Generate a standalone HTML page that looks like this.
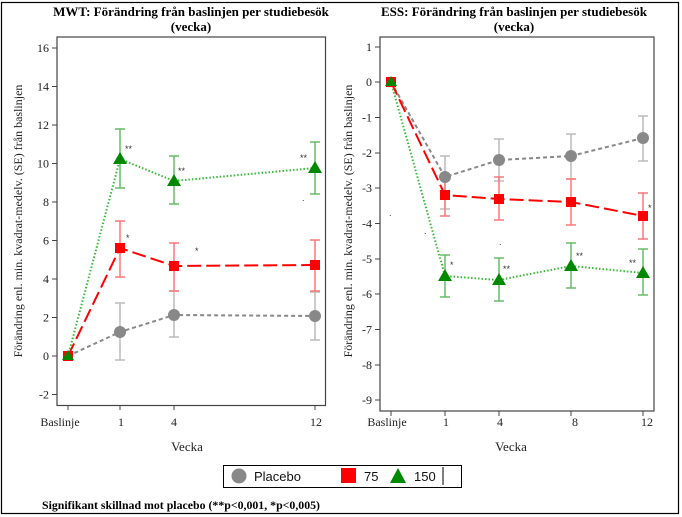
<!DOCTYPE html>
<html><head><meta charset="utf-8"><style>
html,body{margin:0;padding:0;background:#fff;}
svg{display:block;}
text{font-family:"Liberation Serif",serif;}
.t{font-size:12px;fill:#222;}
.ttl{font-size:13px;font-weight:bold;fill:#000;}
.sans{font-family:"Liberation Sans",sans-serif;}
</style></head><body>
<svg width="682" height="517" viewBox="0 0 682 517" xmlns="http://www.w3.org/2000/svg">
<rect x="1.5" y="2.5" width="677" height="511" fill="#fff" stroke="#000" stroke-width="1.2"/>

<!-- LEFT PANEL -->
<text class="ttl" x="191" y="16" text-anchor="middle">MWT: Förändring från baslinjen per studiebesök</text>
<text class="ttl" x="191" y="31" text-anchor="middle">(vecka)</text>
<rect x="57" y="37" width="268.5" height="368.5" fill="#fff" stroke="#444" stroke-width="1.2"/>
<g stroke="#444" stroke-width="1">
<line x1="52" y1="48" x2="57" y2="48"/><line x1="52" y1="86.5" x2="57" y2="86.5"/><line x1="52" y1="125" x2="57" y2="125"/><line x1="52" y1="163.5" x2="57" y2="163.5"/><line x1="52" y1="202" x2="57" y2="202"/><line x1="52" y1="240.5" x2="57" y2="240.5"/><line x1="52" y1="279" x2="57" y2="279"/><line x1="52" y1="317.5" x2="57" y2="317.5"/><line x1="52" y1="356" x2="57" y2="356"/><line x1="52" y1="394.5" x2="57" y2="394.5"/>
<line x1="68" y1="405" x2="68" y2="410"/><line x1="120" y1="405" x2="120" y2="410"/><line x1="174" y1="405" x2="174" y2="410"/><line x1="315" y1="405" x2="315" y2="410"/>
</g>
<g class="t" text-anchor="end">
<text x="49" y="52">16</text><text x="49" y="90.5">14</text><text x="49" y="129">12</text><text x="49" y="167.5">10</text><text x="49" y="206">8</text><text x="49" y="244.5">6</text><text x="49" y="283">4</text><text x="49" y="321.5">2</text><text x="49" y="360">0</text><text x="49" y="398.5">-2</text>
</g>
<g class="t" text-anchor="middle">
<text x="60" y="426">Baslinje</text><text x="121" y="426">1</text><text x="174" y="426">4</text><text x="316" y="426">12</text>
<text x="187" y="451" font-size="13">Vecka</text>
</g>
<text class="t" transform="translate(22,221) rotate(-90)" text-anchor="middle">Förändring enl. min. kvadrat-medelv. (SE) från baslinjen</text>
<g stroke-width="1.5" fill="none">
<g stroke="#bbb"><path d="M120 360V303M115 360h10M115 303h10M174 337V291M169 337h10M169 291h10M315 340V292M310 340h10M310 292h10"/></g>
<g stroke="#f77"><path d="M120 277V221M115 277h10M115 221h10M174 291V243M169 291h10M169 243h10M315 291V240M310 291h10M310 240h10"/></g>
<g stroke="#6b6"><path d="M120 188V129M115 188h10M115 129h10M174 204V156M169 204h10M169 156h10M315 194V142M310 194h10M310 142h10"/></g>
</g>
<polyline points="68,356 120,332 174,315 315,316" fill="none" stroke="#888" stroke-width="2" stroke-dasharray="4,3"/>
<polyline points="68,356 120,248 174,266 315,265" fill="none" stroke="#f00" stroke-width="2" stroke-dasharray="14,5"/>
<polyline points="68,356 120,159 174,181 315,168" fill="none" stroke="#3b3" stroke-width="2" stroke-dasharray="1.5,2"/>
<g fill="#888"><circle cx="120" cy="332" r="6"/><circle cx="174" cy="315" r="6"/><circle cx="315" cy="316" r="6"/></g>
<g fill="#f00"><rect x="115" y="243" width="10" height="10"/><rect x="169" y="261" width="10" height="10"/><rect x="310" y="260" width="10" height="10"/><rect x="63" y="351" width="10" height="10"/></g>
<g fill="#080"><path d="M120 152l7 12h-14z"/><path d="M174 174l7 12h-14z"/><path d="M315 161l7 12h-14z"/><path d="M68 350l6 10h-12z"/></g>
<g font-size="9" fill="#333" class="sans">
<text class="sans" x="125" y="152">**</text><text class="sans" x="178" y="174">**</text><text class="sans" x="300" y="161">**</text><text class="sans" x="126" y="241">*</text><text class="sans" x="195" y="254">*</text><text class="sans" x="302" y="201">.</text>
</g>

<!-- RIGHT PANEL -->
<text class="ttl" x="514" y="16" text-anchor="middle">ESS: Förändring från baslinjen per studiebesök</text>
<text class="ttl" x="514" y="31" text-anchor="middle">(vecka)</text>
<rect x="380" y="37" width="274" height="374" fill="#fff" stroke="#444" stroke-width="1.2"/>
<g stroke="#444" stroke-width="1">
<line x1="375" y1="47" x2="380" y2="47"/><line x1="375" y1="82" x2="380" y2="82"/><line x1="375" y1="117.5" x2="380" y2="117.5"/><line x1="375" y1="153" x2="380" y2="153"/><line x1="375" y1="188" x2="380" y2="188"/><line x1="375" y1="223.5" x2="380" y2="223.5"/><line x1="375" y1="259" x2="380" y2="259"/><line x1="375" y1="294" x2="380" y2="294"/><line x1="375" y1="329.5" x2="380" y2="329.5"/><line x1="375" y1="365" x2="380" y2="365"/><line x1="375" y1="400" x2="380" y2="400"/>
<line x1="391" y1="411" x2="391" y2="416"/><line x1="445" y1="411" x2="445" y2="416"/><line x1="499" y1="411" x2="499" y2="416"/><line x1="571" y1="411" x2="571" y2="416"/><line x1="643" y1="411" x2="643" y2="416"/>
</g>
<g class="t" text-anchor="end">
<text x="372" y="51">1</text><text x="372" y="86">0</text><text x="372" y="121.5">-1</text><text x="372" y="157">-2</text><text x="372" y="192">-3</text><text x="372" y="227.5">-4</text><text x="372" y="263">-5</text><text x="372" y="298">-6</text><text x="372" y="333.5">-7</text><text x="372" y="369">-8</text><text x="372" y="404">-9</text>
</g>
<g class="t" text-anchor="middle">
<text x="387" y="426">Baslinje</text><text x="446" y="426">1</text><text x="500" y="426">4</text><text x="575" y="426">8</text><text x="647" y="426">12</text>
<text x="511" y="451" font-size="13">Vecka</text>
</g>
<text class="t" transform="translate(352,221) rotate(-90)" text-anchor="middle">Förändring enl. min. kvadrat-medelv. (SE) från baslinjen</text>
<g stroke-width="1.5" fill="none">
<g stroke="#bbb"><path d="M445 209V156M440 209h10M440 156h10M499 181V139M494 181h10M494 139h10M571 179V134M566 179h10M566 134h10M643 161V116M638 161h10M638 116h10"/></g>
<g stroke="#f77"><path d="M445 216V174M440 216h10M440 174h10M499 220V177M494 220h10M494 177h10M571 225V179M566 225h10M566 179h10M643 239V193M638 239h10M638 193h10"/></g>
<g stroke="#6b6"><path d="M445 297V255M440 297h10M440 255h10M499 301V258M494 301h10M494 258h10M571 288V243M566 288h10M566 243h10M643 295V249M638 295h10M638 249h10"/></g>
</g>
<polyline points="391,82 445,177 499,160 571,156 643,138" fill="none" stroke="#888" stroke-width="2" stroke-dasharray="4,3"/>
<polyline points="391,82 445,195 499,199 571,202 643,216" fill="none" stroke="#f00" stroke-width="2" stroke-dasharray="14,5"/>
<polyline points="391,82 445,276 499,280 571,266 643,273" fill="none" stroke="#3b3" stroke-width="2" stroke-dasharray="1.5,2"/>
<g fill="#888"><circle cx="445" cy="177" r="6"/><circle cx="499" cy="160" r="6"/><circle cx="571" cy="156" r="6"/><circle cx="643" cy="138" r="6"/></g>
<g fill="#f00"><rect x="440" y="190" width="10" height="10"/><rect x="494" y="194" width="10" height="10"/><rect x="566" y="197" width="10" height="10"/><rect x="638" y="211" width="10" height="10"/><rect x="386" y="77" width="10" height="10"/></g>
<g fill="#080"><path d="M445 269l7 12h-14z"/><path d="M499 273l7 12h-14z"/><path d="M571 259l7 12h-14z"/><path d="M643 266l7 12h-14z"/><path d="M391 76l6 10h-12z"/></g>
<g font-size="9" fill="#333">
<text class="sans" x="450" y="268">*</text><text class="sans" x="503" y="272">**</text><text class="sans" x="576" y="259">**</text><text class="sans" x="629" y="266">**</text><text class="sans" x="648" y="211">*</text><text class="sans" x="499" y="245">.</text><text class="sans" x="389" y="216">.</text><text class="sans" x="424" y="234">.</text>
</g>

<!-- LEGEND -->
<rect x="223.5" y="465.5" width="238" height="22" fill="#fff" stroke="#000" stroke-width="1"/>
<circle cx="239" cy="476" r="7.5" fill="#888"/>
<text class="sans" x="254" y="481" style="font-family:'Liberation Sans',sans-serif;font-size:13px" fill="#111">Placebo</text>
<rect x="341" y="468" width="15" height="15" fill="#f00"/>
<text class="sans" x="364" y="481" style="font-family:'Liberation Sans',sans-serif;font-size:13px" fill="#111">75</text>
<path d="M398 468l8 15h-16z" fill="#080"/>
<text class="sans" x="414" y="481" style="font-family:'Liberation Sans',sans-serif;font-size:13px" fill="#111">150</text>
<line x1="443" y1="467" x2="443" y2="485" stroke="#000" stroke-width="1"/>

<text x="42" y="509" font-size="12" font-weight="bold" fill="#000" textLength="278" lengthAdjust="spacingAndGlyphs">Signifikant skillnad mot placebo (**p&lt;0,001, *p&lt;0,005)</text>
</svg>
</body></html>
